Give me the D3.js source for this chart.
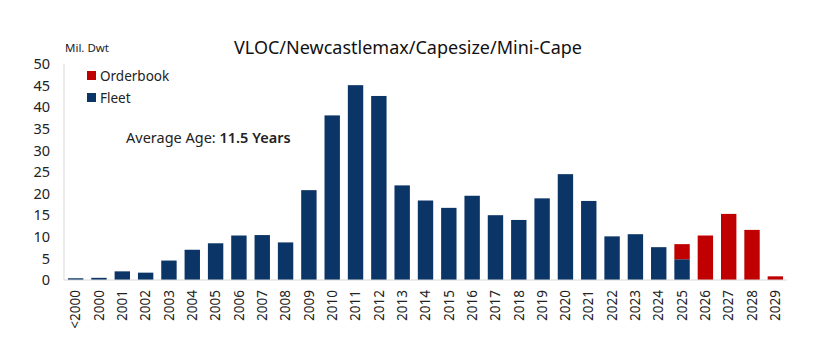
<!DOCTYPE html>
<html><head><meta charset="utf-8">
<script src="https://cdn.jsdelivr.net/npm/d3@7"></script>
<style>body{margin:0;background:#fff}svg{display:block}text{font-family:"Noto Sans",sans-serif}</style>
</head><body><svg id="c" width="830" height="357"></svg>
<script>
const categories = ["<2000","2000","2001","2002","2003","2004","2005","2006","2007","2008","2009","2010","2011","2012","2013","2014","2015","2016","2017","2018","2019","2020","2021","2022","2023","2024","2025","2026","2027","2028","2029"];
const fleet = [0.4,0.5,2.0,1.7,4.5,7.0,8.5,10.3,10.4,8.7,20.8,38.1,45.1,42.6,21.9,18.4,16.7,19.5,15.0,13.9,18.9,24.5,18.3,10.1,10.6,7.6,4.8,0,0,0,0];
const orderbook = [0,0,0,0,0,0,0,0,0,0,0,0,0,0,0,0,0,0,0,0,0,0,0,0,0,0,3.5,10.3,15.3,11.6,0.85];
const yTicks = [0,5,10,15,20,25,30,35,40,45,50];
const seriesNames = ["Orderbook","Fleet"];
const colors = {Fleet:"#0b3566", Orderbook:"#c00000"};

const svg = d3.select("#c");
const x = d3.scaleBand().domain(categories).range([64,787]).paddingInner(0.34).paddingOuter(0.17);
const y = d3.scaleLinear().domain([0,50]).range([280,64]);

const data = categories.map((c,i)=>({c, fleet:fleet[i], ob:orderbook[i]}));
svg.append("g").selectAll("rect").data(data.filter(d=>d.fleet>0)).join("rect")
  .attr("x",d=>x(d.c)).attr("width",x.bandwidth())
  .attr("y",d=>y(d.fleet)).attr("height",d=>y(0)-y(d.fleet)).attr("fill",colors.Fleet);
svg.append("g").selectAll("rect").data(data.filter(d=>d.ob>0)).join("rect")
  .attr("x",d=>x(d.c)).attr("width",x.bandwidth())
  .attr("y",d=>y(d.fleet+d.ob)).attr("height",d=>y(d.fleet)-y(d.fleet+d.ob)).attr("fill",colors.Orderbook);

// axes
const ya = svg.append("g").attr("transform","translate(64,0)")
  .call(d3.axisLeft(y).tickValues(yTicks).tickSize(0).tickPadding(14));
ya.select(".domain").attr("stroke","#d9d9d9").attr("d","M0,64V280");
ya.selectAll("text").attr("font-size",14.5).attr("fill","#222").style("font-family","Noto Sans");

const xa = svg.append("g").attr("transform","translate(0,280)")
  .call(d3.axisBottom(x).tickSize(0));
xa.select(".domain").attr("stroke","#d9d9d9").attr("d","M64,0H787");
xa.selectAll("text").attr("font-size",13.5).attr("fill","#222").style("font-family","Noto Sans")
  .attr("transform","rotate(-90)").attr("text-anchor","end").attr("x",-10).attr("y",0).attr("dy","0.35em");

// title & unit
svg.append("text").attr("x",408).attr("y",54).attr("text-anchor","middle").attr("font-size",18).attr("fill","#111").text("VLOC/Newcastlemax/Capesize/Mini-Cape");
svg.append("text").attr("x",65).attr("y",52).attr("font-size",11.5).attr("fill","#222").text("Mil. Dwt");

// legend
const lg = svg.append("g");
seriesNames.forEach((n,i)=>{
  lg.append("rect").attr("x",87).attr("y",71+i*22).attr("width",9).attr("height",9).attr("fill",colors[n]);
  lg.append("text").attr("x",100).attr("y",80.5+i*22).attr("font-size",13.5).attr("fill","#222").text(n);
});
const at = svg.append("text").attr("x",126).attr("y",143).attr("font-size",14.5).attr("fill","#222");
at.append("tspan").text("Average Age: ");
at.append("tspan").attr("font-weight",600).text("11.5 Years");
</script></body></html>
